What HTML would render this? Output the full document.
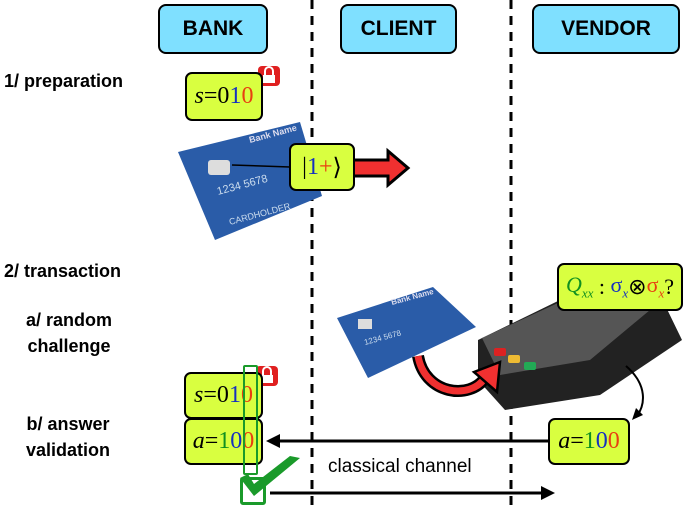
<!DOCTYPE html>
<html><head><style>
body{margin:0;width:685px;height:510px;background:#fff;overflow:hidden;position:relative;font-family:"Liberation Sans",sans-serif}
.h{position:absolute;top:4px;height:50px;background:#7fe0ff;border:2px solid #000;border-radius:8px;font-weight:bold;font-size:21px;display:flex;align-items:center;justify-content:center;box-sizing:border-box}
.lbl{position:absolute;font-weight:bold;font-size:18px;line-height:26px}
.g{position:absolute;background:#d9ff40;border:2px solid #000;border-radius:7px;box-sizing:border-box;display:flex;align-items:center;justify-content:center;font-family:"Liberation Serif",serif;font-size:24px}
i{font-style:italic}.b{color:#1530c0}.r{color:#e84010}.gr{color:#109020}
</style></head><body>
<div class="h" style="left:158px;width:110px">BANK</div>
<div class="h" style="left:340px;width:117px">CLIENT</div>
<div class="h" style="left:532px;width:148px">VENDOR</div>
<svg width="685" height="510" style="position:absolute;left:0;top:0">
<line x1="312" y1="0" x2="312" y2="510" stroke="#000" stroke-width="3" stroke-dasharray="9,7"/>
<line x1="511" y1="0" x2="511" y2="510" stroke="#000" stroke-width="3" stroke-dasharray="9,7"/>
<!-- card 1 -->
<polygon points="178,152 300,122 322,196 215,240" fill="#2a5ca8"/>
<rect x="208" y="160" width="22" height="15" fill="#ddd" rx="3"/>
<text x="250" y="143" fill="#dde" font-size="9" font-weight="bold" transform="rotate(-15 250 143)">Bank Name</text>
<text x="218" y="195" fill="#cde" font-size="11" transform="rotate(-15 218 195)">1234 5678</text>
<text x="230" y="225" fill="#cde" font-size="9" transform="rotate(-15 230 225)">CARDHOLDER</text>
<line x1="290" y1="167" x2="232" y2="165" stroke="#000" stroke-width="1.5"/>
<polygon points="352,160 388,160 388,151 408,168 388,185 388,176 352,176" fill="#f03030" stroke="#000" stroke-width="3"/>
<!-- card 2 -->
<polygon points="337,318 433,287 476,327 368,378" fill="#2a5ca8"/>
<rect x="358" y="319" width="14" height="10" fill="#ddd"/>
<text x="392" y="305" fill="#dde" font-size="8" font-weight="bold" transform="rotate(-15 392 305)">Bank Name</text>
<text x="365" y="345" fill="#cde" font-size="8" transform="rotate(-15 365 345)">1234 5678</text>
<!-- terminal -->
<polygon points="478,340 560,300 665,305 682,340 600,395 505,410 478,380" fill="#222"/>
<polygon points="482,338 560,302 650,310 590,360 500,375" fill="#555"/>
<rect x="494" y="348" width="12" height="8" fill="#d22" rx="2"/>
<rect x="508" y="355" width="12" height="8" fill="#eb3" rx="2"/>
<rect x="524" y="362" width="12" height="8" fill="#2a5" rx="2"/>
<!-- red curved arrow -->
<path d="M418,356 C425,395 470,400 485,378" fill="none" stroke="#000" stroke-width="12"/>
<path d="M418,356 C425,395 470,400 485,378" fill="none" stroke="#f03030" stroke-width="7"/>
<polygon points="474,372 500,362 497,392" fill="#f03030" stroke="#000" stroke-width="2.5"/>
<!-- black curved -->
<path d="M626,366 C648,385 645,405 637,416" fill="none" stroke="#000" stroke-width="2"/>
<polygon points="632,420 636,408 643,415" fill="#000"/>
<!-- arrows -->
<line x1="548" y1="441" x2="276" y2="441" stroke="#000" stroke-width="3"/>
<polygon points="266,441 280,434 280,448" fill="#000"/>
<line x1="270" y1="493" x2="545" y2="493" stroke="#000" stroke-width="3"/>
<polygon points="555,493 541,486 541,500" fill="#000"/>
<!-- locks -->
<rect x="258" y="66" width="22" height="20" rx="4" fill="#e02020"/>
<path d="M265,75 v-4 a4,4 0 0 1 8,0 v4" fill="none" stroke="#fff" stroke-width="2"/><rect x="263" y="75" width="12" height="8" fill="#fff"/>
<rect x="256" y="366" width="22" height="20" rx="4" fill="#e02020"/>
<path d="M263,375 v-4 a4,4 0 0 1 8,0 v4" fill="none" stroke="#fff" stroke-width="2"/><rect x="261" y="375" width="12" height="8" fill="#fff"/>
</svg>
<div class="lbl" style="left:4px;top:68px">1/ preparation</div>
<div class="lbl" style="left:4px;top:258px">2/ transaction</div>
<div class="lbl" style="left:26px;top:307px;text-align:center">a/ random<br>challenge</div>
<div class="lbl" style="left:26px;top:411px;text-align:center">b/ answer<br>validation</div>
<div class="g" style="left:185px;top:72px;width:78px;height:49px"><i>s</i>=0<span class="b">1</span><span class="r">0</span></div>
<div class="g" style="left:289px;top:143px;width:66px;height:48px">|<span class="b">1</span><span class="r">+</span>⟩</div>
<div class="g" style="left:557px;top:263px;width:126px;height:48px;font-size:22px"><i class="gr">Q<sub style="font-size:13px">xx</sub></i>&nbsp;:&nbsp;<span class="b">σ<sub style="font-size:13px"><i>x</i></sub></span>⊗<span class="r">σ<sub style="font-size:13px"><i>x</i></sub></span>?</div>
<div class="g" style="left:184px;top:372px;width:79px;height:47px"><i>s</i>=0<span class="b">1</span><span class="r">0</span></div>
<div class="g" style="left:184px;top:418px;width:79px;height:47px"><i>a</i>=<span class="gr">1</span><span class="b">0</span><span class="r">0</span></div>
<div class="g" style="left:548px;top:418px;width:82px;height:47px"><i>a</i>=<span class="gr">1</span><span class="b">0</span><span class="r">0</span></div>
<div style="position:absolute;left:243px;top:365px;width:11px;height:106px;border:2px solid #1a9a2a;border-radius:2px"></div>
<div style="position:absolute;left:240px;top:477px;width:26px;height:28px;border:3px solid #1a9a2a;border-radius:3px;box-sizing:border-box"></div>
<svg width="80" height="60" style="position:absolute;left:232px;top:450px"><path d="M8,28 L22,46 L68,8 L58,6 L22,34 L16,24 Z" fill="#1a9a2a"/></svg>
<div style="position:absolute;left:328px;top:456px;font-size:19px">classical channel</div>
</body></html>
